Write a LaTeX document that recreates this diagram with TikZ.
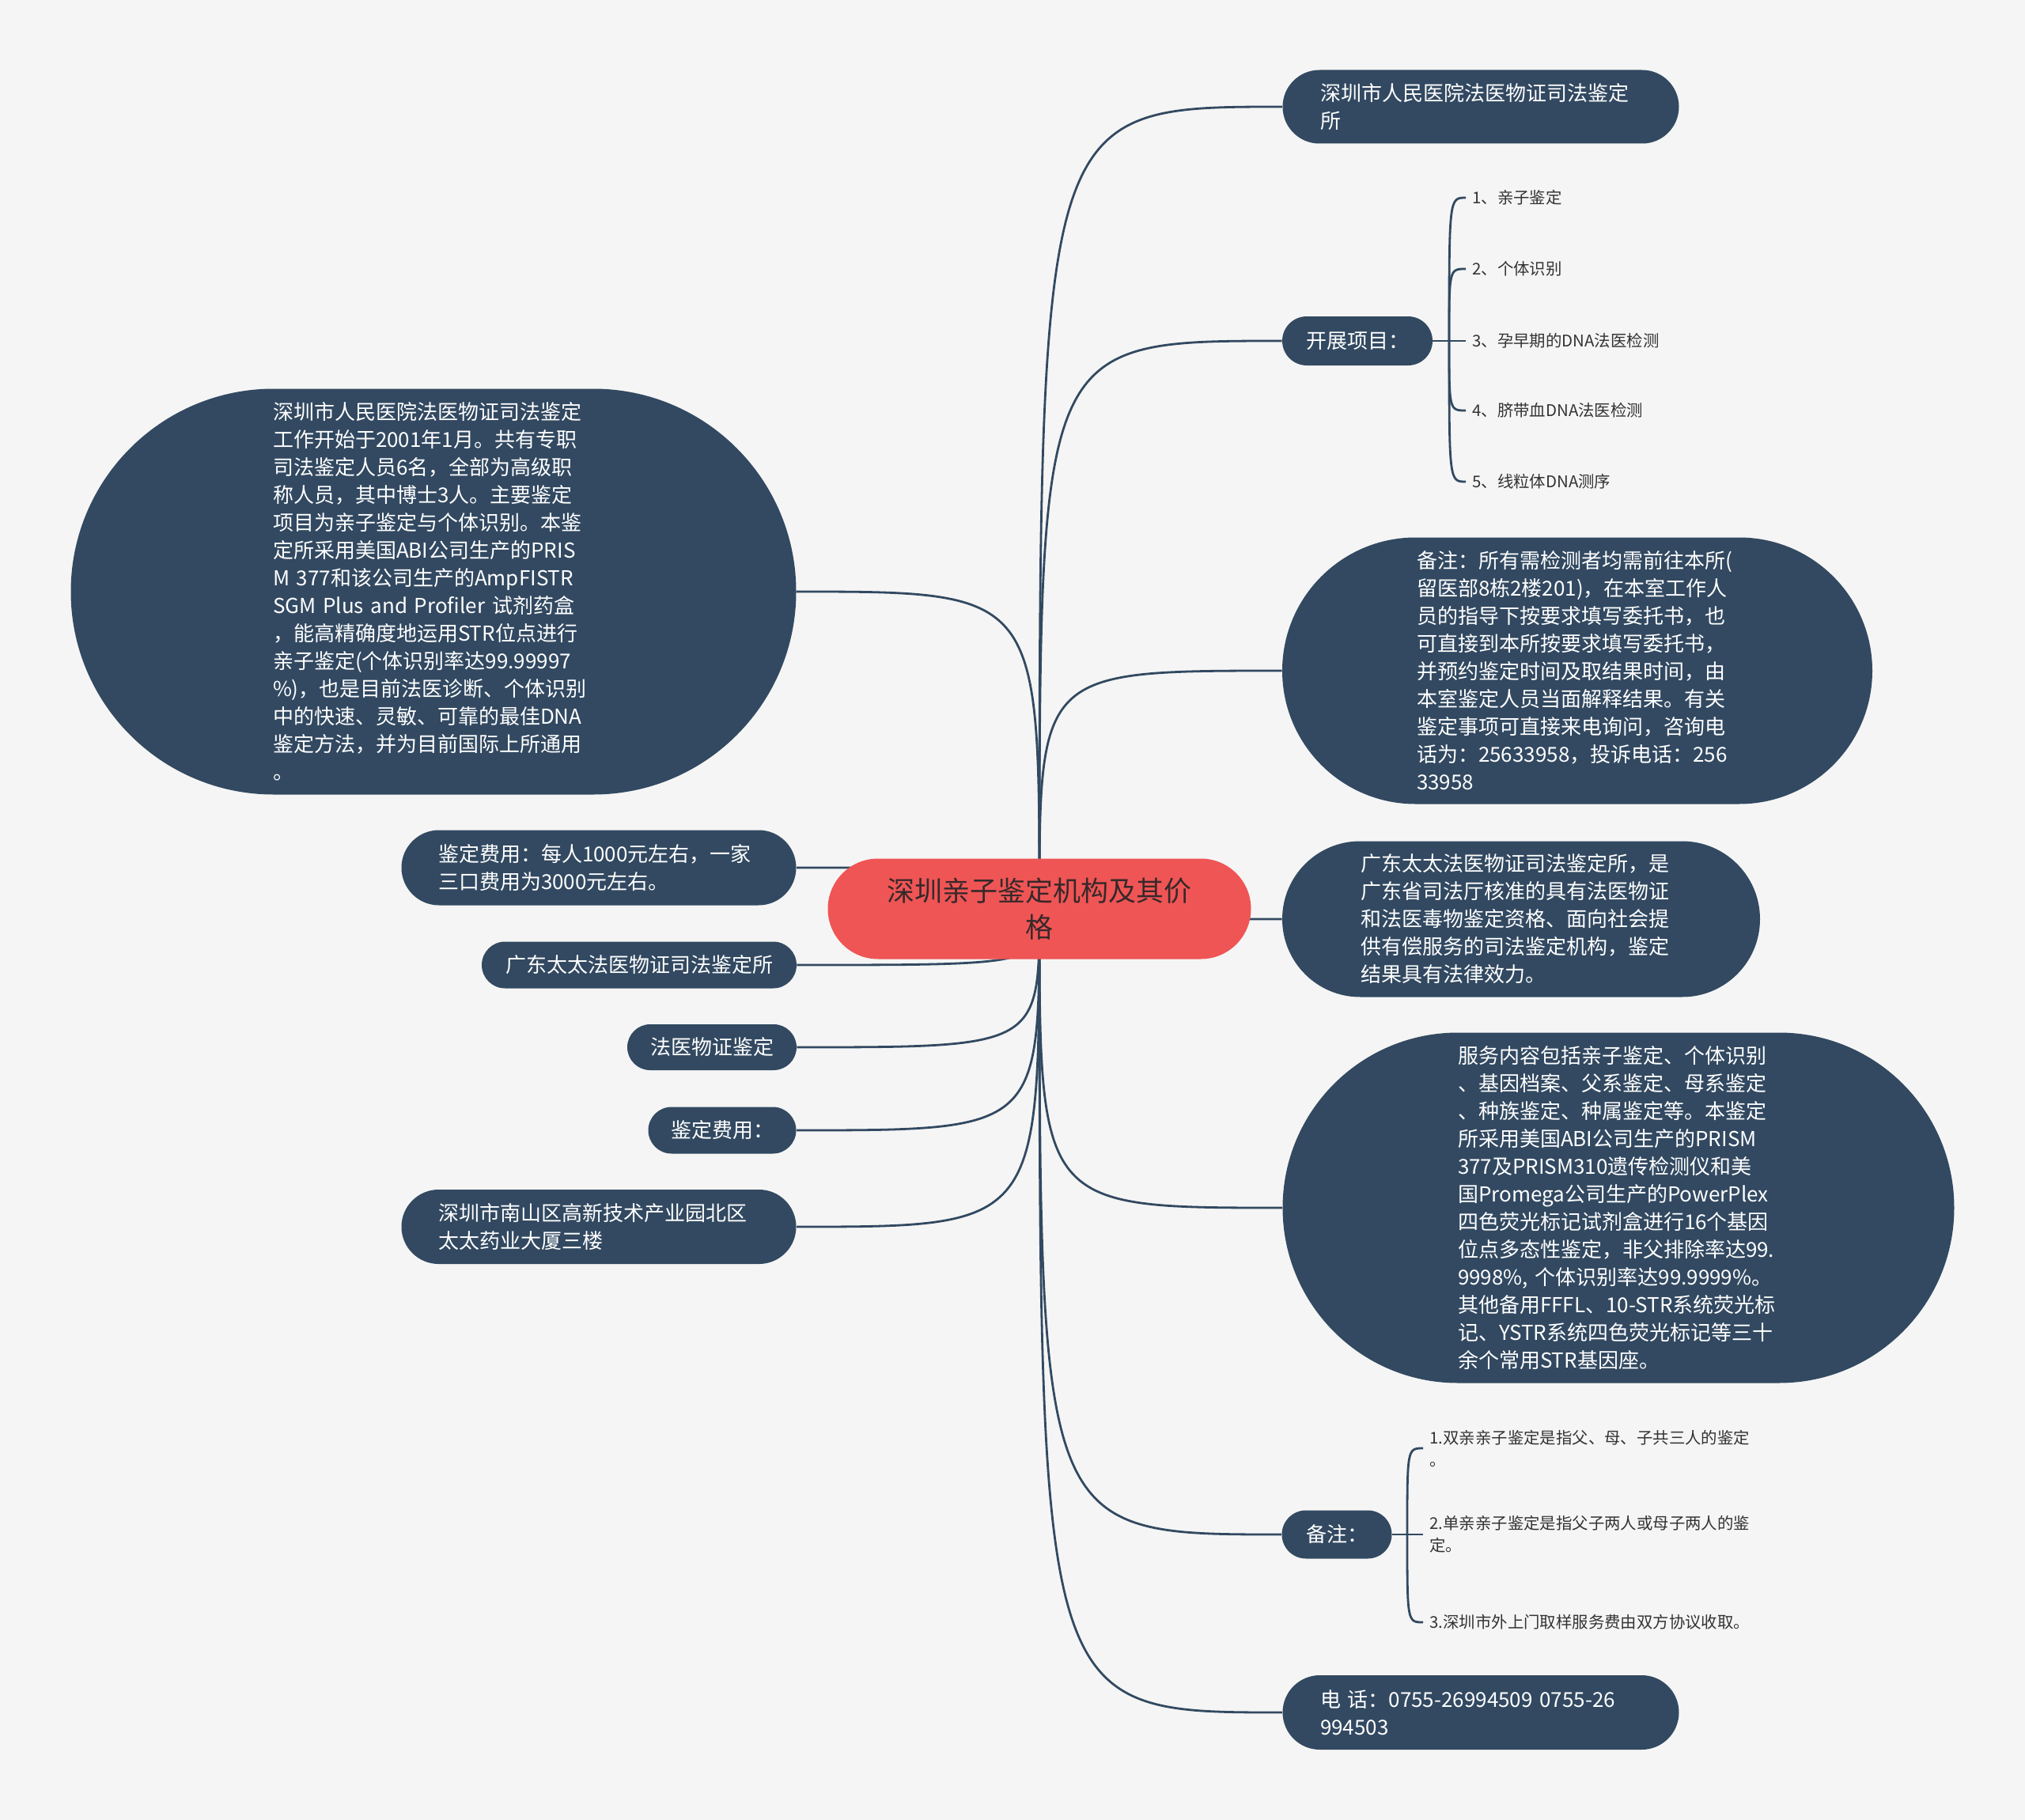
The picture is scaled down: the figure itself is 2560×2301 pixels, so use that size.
\documentclass[tikz,border=0pt]{standalone}
\usepackage{fontspec}
\setmainfont{Noto Sans CJK SC}
\usetikzlibrary{backgrounds}
\definecolor{paper}{RGB}{245,245,245}
\definecolor{topicfill}{RGB}{50,73,97}
\definecolor{rootfill}{RGB}{239,85,85}
\definecolor{roottext}{RGB}{55,40,42}
\definecolor{leaftext}{RGB}{51,51,51}

\begin{document}
\begin{tikzpicture}[x=0.5pt, y=-0.5pt,
    link/.style={draw=topicfill, line width=1.4pt},
    pill/.style 2 args={minimum width=#1pt, minimum height=#2pt, rounded corners=0.5*#2pt},
    topic/.style={fill=topicfill, text=white, inner sep=0pt, align=left,
        font=\fontsize{13}{17.5}\selectfont},
    para/.style={text width=203pt},
    root/.style={fill=rootfill, text=roottext, inner sep=0pt, align=center,
        font=\fontsize{17.5}{23}\selectfont},
    leaf/.style={anchor=west, text=leaftext, inner sep=4pt, align=left,
        font=\fontsize{10.2}{14}\selectfont}]
    \begin{scope}[on background layer]
        \fill[paper] (0,0) rectangle (2560,2301);
    \end{scope}
    \useasboundingbox (0,0) rectangle (2560,2301);

    % centre
    \node[root, pill={267.5}{63.5}] (root) at (1314,1149) {深圳亲子鉴定机构及其价\\格};

    % right side
    \node[topic, para, pill={250.5}{46.5}] (r1) at (1872,135) {深圳市人民医院法医物证司法鉴定\\所};
    \node[topic, pill={95}{31}] (r2) at (1716,431) {开展项目：};
    \node[topic, para, pill={373}{168.5}] (r3) at (1994,848) {备注：所有需检测者均需前往本所(\\
        留医部8栋2楼201)，在本室工作人\\
        员的指导下按要求填写委托书，也\\
        可直接到本所按要求填写委托书，\\
        并预约鉴定时间及取结果时间，由\\
        本室鉴定人员当面解释结果。有关\\
        鉴定事项可直接来电询问，咨询电\\
        话为：25633958，投诉电话：256\\
        33958};
    \node[topic, para, pill={302}{98.5}] (r4) at (1923,1162) {广东太太法医物证司法鉴定所，是\\
        广东省司法厅核准的具有法医物证\\
        和法医毒物鉴定资格、面向社会提\\
        供有偿服务的司法鉴定机构，鉴定\\
        结果具有法律效力。};
    \node[topic, para, pill={424.5}{221.5}] (r5) at (2046,1527) {服务内容包括亲子鉴定、个体识别\\
        、基因档案、父系鉴定、母系鉴定\\
        、种族鉴定、种属鉴定等。本鉴定\\
        所采用美国ABI公司生产的PRISM\\
        377及PRISM310遗传检测仪和美\\
        国Promega公司生产的PowerPlex\\
        四色荧光标记试剂盒进行16个基因\\
        位点多态性鉴定，非父排除率达99.\\
        9998\%, 个体识别率达99.9999\%。\\
        其他备用FFFL、10-STR系统荧光标\\
        记、YSTR系统四色荧光标记等三十\\
        余个常用STR基因座。};
    \node[topic, pill={69.5}{30.5}] (r6) at (1690,1940) {备注：};
    \node[topic, para, pill={250.5}{47}] (r7) at (1872,2165) {电 话：0755-26994509 0755-26\\994503};

    % left side
    \node[topic, para, pill={458.5}{256.5}] (l1) at (548,748) {深圳市人民医院法医物证司法鉴定\\
        工作开始于2001年1月。共有专职\\
        司法鉴定人员6名，全部为高级职\\
        称人员，其中博士3人。主要鉴定\\
        项目为亲子鉴定与个体识别。本鉴\\
        定所采用美国ABI公司生产的PRIS\\
        M 377和该公司生产的AmpFISTR\\
        SGM Plus and Profiler 试剂药盒\\
        ，能高精确度地运用STR位点进行\\
        亲子鉴定(个体识别率达99.99997\\
        \%)，也是目前法医诊断、个体识别\\
        中的快速、灵敏、可靠的最佳DNA\\
        鉴定方法，并为目前国际上所通用\\
        。};
    \node[topic, para, pill={249.5}{47.5}] (l2) at (757,1097) {鉴定费用：每人1000元左右，一家\\三口费用为3000元左右。};
    \node[topic, pill={199}{29.5}] (l3) at (808,1220) {广东太太法医物证司法鉴定所};
    \node[topic, pill={107}{29}] (l4) at (900,1324) {法医物证鉴定};
    \node[topic, pill={93.5}{29.5}] (l5) at (913,1429) {鉴定费用：};
    \node[topic, para, pill={249.5}{47}] (l6) at (757,1551) {深圳市南山区高新技术产业园北区\\太太药业大厦三楼};

    % leaves of 开展项目
    \node[leaf] (k1) at (1853,250) {1、亲子鉴定};
    \node[leaf] (k2) at (1853,340) {2、个体识别};
    \node[leaf] (k3) at (1853,431) {3、孕早期的DNA法医检测};
    \node[leaf] (k4) at (1853,519) {4、脐带血DNA法医检测};
    \node[leaf] (k5) at (1853,609) {5、线粒体DNA测序};
    \coordinate (kzs) at (1832,431);

    % leaves of 备注
    \node[leaf] (b1) at (1799,1831) {1.双亲亲子鉴定是指父、母、子共三人的鉴定\\。};
    \node[leaf] (b2) at (1799,1940) {2.单亲亲子鉴定是指父子两人或母子两人的鉴\\定。};
    \node[leaf] (b3) at (1799,2051) {3.深圳市外上门取样服务费由双方协议收取。};
    \coordinate (bzs) at (1779,1940);

    \begin{scope}[on background layer]
        \foreach \t in {r1,r2,r3,r4,r5,r6,r7}
            \draw[link] (root.center) .. controls (root.center |- \t.west) .. (\t.west);
        \foreach \t in {l1,l2,l3,l4,l5,l6}
            \draw[link] (root.center) .. controls (root.center |- \t.east) .. (\t.east);
    \end{scope}

    \draw[link] (r2.east) -- (k3.west);
    \foreach \t in {k1,k2,k4,k5}
        \draw[link] (kzs) .. controls (kzs |- \t.west) .. (\t.west);
    \draw[link] (r6.east) -- (b2.west);
    \foreach \t in {b1,b3}
        \draw[link] (bzs) .. controls (bzs |- \t.west) .. (\t.west);
\end{tikzpicture}
\end{document}
